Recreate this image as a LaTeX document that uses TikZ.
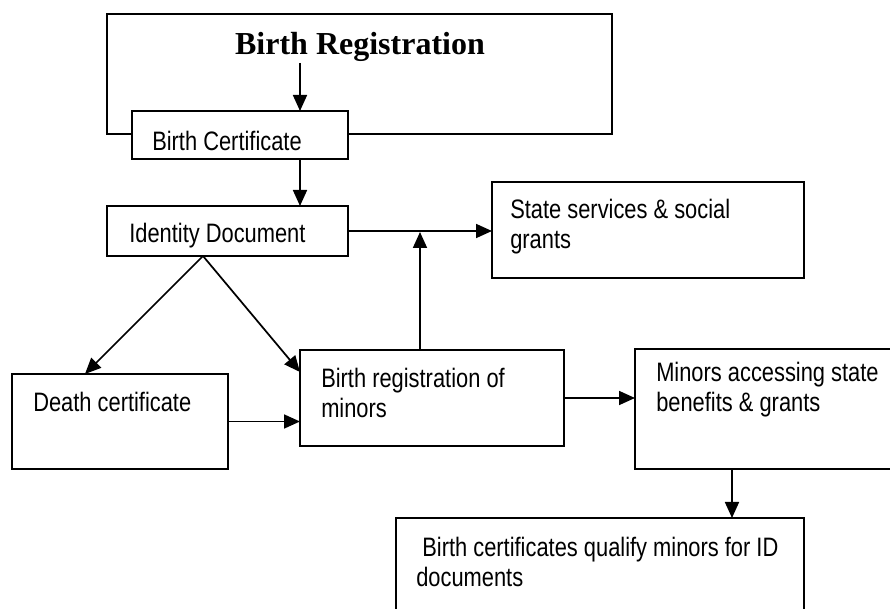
\documentclass[tikz,border=0pt]{standalone}
\usepackage{fontspec}
\setmainfont{Liberation Sans}[FakeStretch=0.82]
\newfontfamily\titlefont{Liberation Serif}
\usetikzlibrary{arrows.meta,calc}
\newcommand{\pxl}{0.75pt}
\def\panel(#1)(#2,#3)(#4,#5){\node[box, minimum width={(#4-#2)*\pxl}, minimum height={(#5-#3)*\pxl}] (#1) at (#2,#3) {};}
\tikzset{
  box/.style={draw, fill=white, line width=1.6pt, inner sep=0pt, outer sep=0pt, anchor=north west},
  boxtext/.style={anchor=north west, inner sep=0pt, align=left, font=\fontsize{20pt}{22.5pt}\selectfont},
  arr/.style={line width=1.3pt, -{Triangle[length=12pt,width=10.5pt]}}
}

\begin{document}
\begin{tikzpicture}[x=0.75pt, y=-0.75pt]
		\useasboundingbox (0,0) rectangle (890,609);
		%%%%% BOXES %%%%%
		\panel(reg)(107,14)(612,134)
		\node[font=\titlefont\bfseries\fontsize{24pt}{28pt}\selectfont, anchor=base] (regtitle) at (360,55) {Birth Registration};
		
		\panel(bc)(132,111)(348,159)
		\node[boxtext] (bctext) at (152,131) {Birth Certificate};
		
		\panel(id)(107,206)(348,256)
		\node[boxtext] (idtext) at (129,223) {Identity Document};
		
		\panel(st)(492,182)(804,278)
		\node[boxtext] (sttext) at (510,199) {State services \& social\\grants};
		
		\panel(dc)(12,374)(228,469)
		\node[boxtext] (dctext) at (33,392) {Death certificate};
		
		\panel(mn)(300,350)(564,446)
		\node[boxtext] (mntext) at (321,368) {Birth registration of\\minors};
		
		\panel(ac)(635,349)(895,469)
		\node[boxtext] (actext) at (656,362) {Minors accessing state\\benefits \& grants};
		
		\panel(bq)(396,518)(804,620)
		\node[boxtext] (bqtext) at (416,537) {~Birth certificates qualify minors for ID\\documents};
		
		%%%%% ARROWS %%%%%
		\coordinate (regdrop) at (300,63);
		\draw[arr] (regdrop) -- (regdrop |- bc.north);
		\draw[arr] (regdrop |- bc.south) -- (regdrop |- id.north);
		\draw[arr] (id.east) -- (id.east -| st.west);
		
		\coordinate (apex) at ($(id.south west)+(96,0)$);
		\draw[arr] (apex) -- ($(dc.north west)+(73,0)$);
		\draw[arr] (apex) -- ($(mn.north west)+(0,22)$);
		\draw[arr] (dc.east) -- (dc.east -| mn.west);
		
		\coordinate (joinup) at ($(id.east)+(72,1)$);
		\draw[arr] (joinup |- mn.north) -- (joinup);
		\draw[arr] (mn.east) -- (mn.east -| ac.west);
		
		\coordinate (acdrop) at ($(ac.south west)+(97,0)$);
		\draw[arr] (acdrop) -- (acdrop |- bq.north);
	\end{tikzpicture}
\end{document}
